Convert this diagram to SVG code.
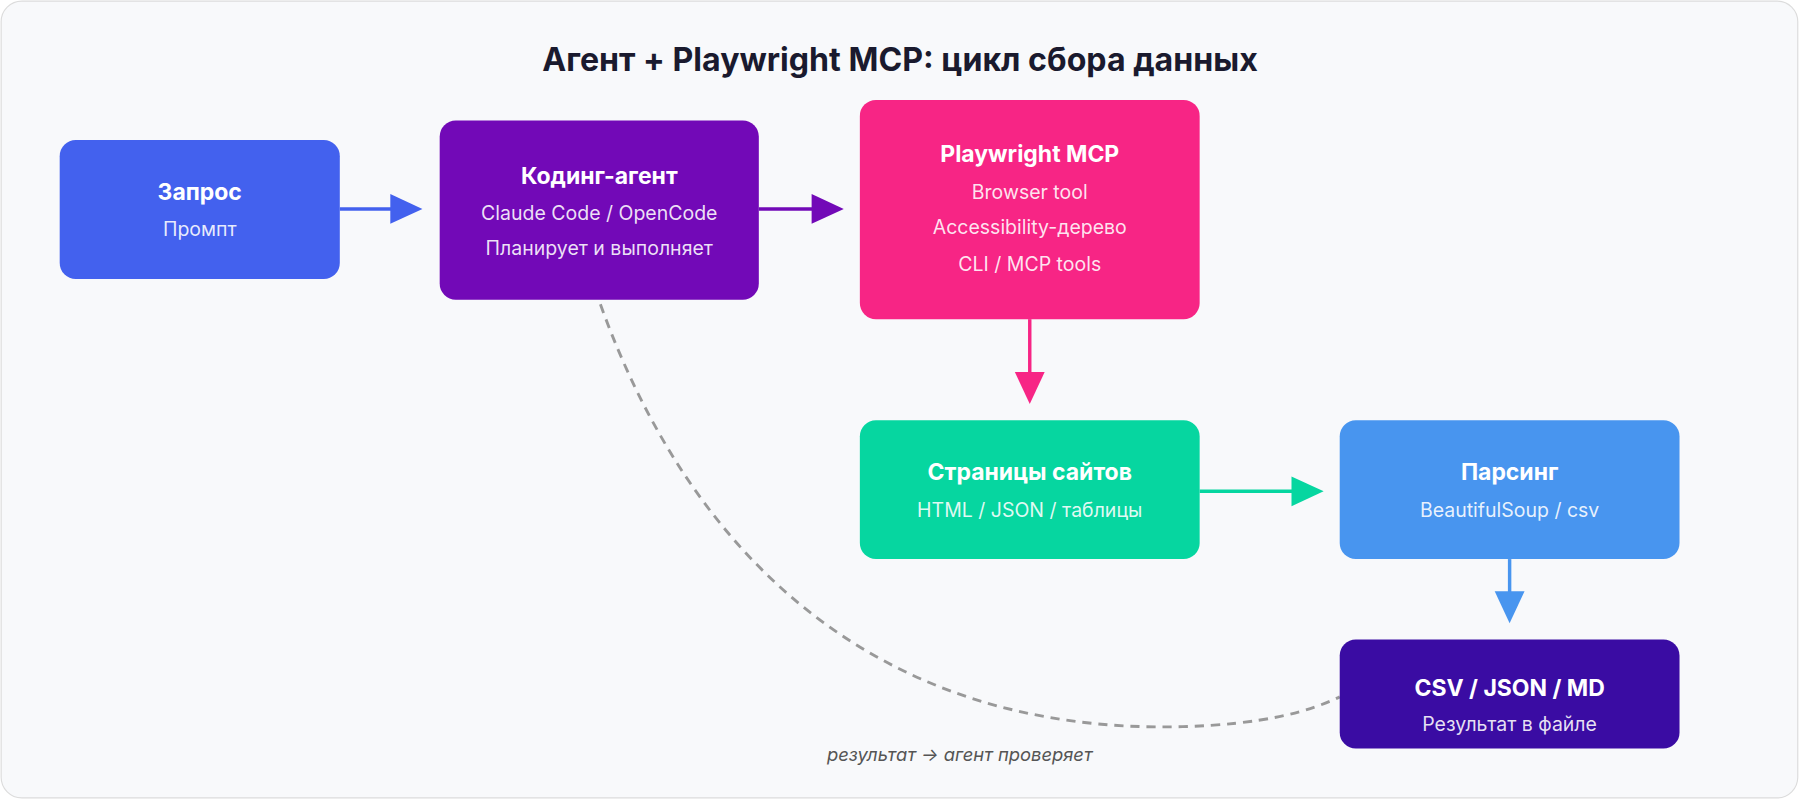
<svg xmlns="http://www.w3.org/2000/svg" width="1800" height="800" viewBox="0 0 1800 800">
<style>
.t{font-family:Inter,"Liberation Sans",sans-serif;fill:#fff;text-anchor:middle;font-weight:700;font-size:20px}
.s{font-family:Inter,"Liberation Sans",sans-serif;fill:#fff;fill-opacity:.88;text-anchor:middle;font-size:17px}
</style>
<defs>
<marker id="a1" markerWidth="10" markerHeight="10" refX="9" refY="5" orient="auto" markerUnits="userSpaceOnUse" viewBox="0 0 10 10"><path d="M0,0L10,5L0,10z" fill="#4361ee"/></marker>
</defs>
<g transform="scale(1.148)">
<rect x="1" y="1" width="1565" height="694" rx="18" fill="#f8f9fb" stroke="#dcdcdc"/>
<text x="784" y="62" font-family="Inter,'Liberation Sans',sans-serif" font-weight="700" font-size="28" fill="#1a1a2e" text-anchor="middle">Агент + Playwright MCP: цикл сбора данных</text>
<g id="connectors">
<line x1="296" y1="182" x2="342" y2="182" stroke="#4361ee" stroke-width="3"/><path d="M340,169L368,182L340,195z" fill="#4361ee"/>
<line x1="661" y1="182" x2="709" y2="182" stroke="#7209b7" stroke-width="3"/><path d="M707,169L735,182L707,195z" fill="#7209b7"/>
<line x1="897" y1="278" x2="897" y2="326" stroke="#f72585" stroke-width="3"/><path d="M884,324L897,352L910,324z" fill="#f72585"/>
<line x1="1045" y1="428" x2="1127" y2="428" stroke="#06d6a0" stroke-width="3"/><path d="M1125,415L1153,428L1125,441z" fill="#06d6a0"/>
<line x1="1315" y1="487" x2="1315" y2="517" stroke="#4895ef" stroke-width="3"/><path d="M1302,515L1315,543L1328,515z" fill="#4895ef"/>
<path d="M523,265 C600,480 760,640 1030,633 C1100,631 1140,620 1167,607" fill="none" stroke="#999" stroke-width="2.5" stroke-dasharray="8 6"/>
<text x="836" y="663" font-family="Inter,'Liberation Sans',sans-serif" font-style="italic" font-size="16" fill="#555" text-anchor="middle">результат → агент проверяет</text>
</g>
<g id="n1"><rect x="52" y="122" width="244" height="121" rx="14" fill="#4361ee"/><text class="t" x="174" y="174">Запрос</text><text class="s" x="174" y="206">Промпт</text></g>
<g id="n2"><rect x="383" y="105" width="278" height="156" rx="14" fill="#7209b7"/><text class="t" x="522" y="160">Кодинг-агент</text><text class="s" x="522" y="192">Claude Code / OpenCode</text><text class="s" x="522" y="222">Планирует и выполняет</text></g>
<g id="n3"><rect x="749" y="87" width="296" height="191" rx="14" fill="#f72585"/><text class="t" x="897" y="141">Playwright MCP</text><text class="s" x="897" y="173">Browser tool</text><text class="s" x="897" y="204">Accessibility-дерево</text><text class="s" x="897" y="236">CLI / MCP tools</text></g>
<g id="n4"><rect x="749" y="366" width="296" height="121" rx="14" fill="#06d6a0"/><text class="t" x="897" y="418">Страницы сайтов</text><text class="s" x="897" y="450">HTML / JSON / таблицы</text></g>
<g id="n5"><rect x="1167" y="366" width="296" height="121" rx="14" fill="#4895ef"/><text class="t" x="1315" y="418">Парсинг</text><text class="s" x="1315" y="450">BeautifulSoup / csv</text></g>
<g id="n6"><rect x="1167" y="557" width="296" height="95" rx="14" fill="#3a0ca3"/><text class="t" x="1315" y="606">CSV / JSON / MD</text><text class="s" x="1315" y="637">Результат в файле</text></g>
</g>
</svg>
